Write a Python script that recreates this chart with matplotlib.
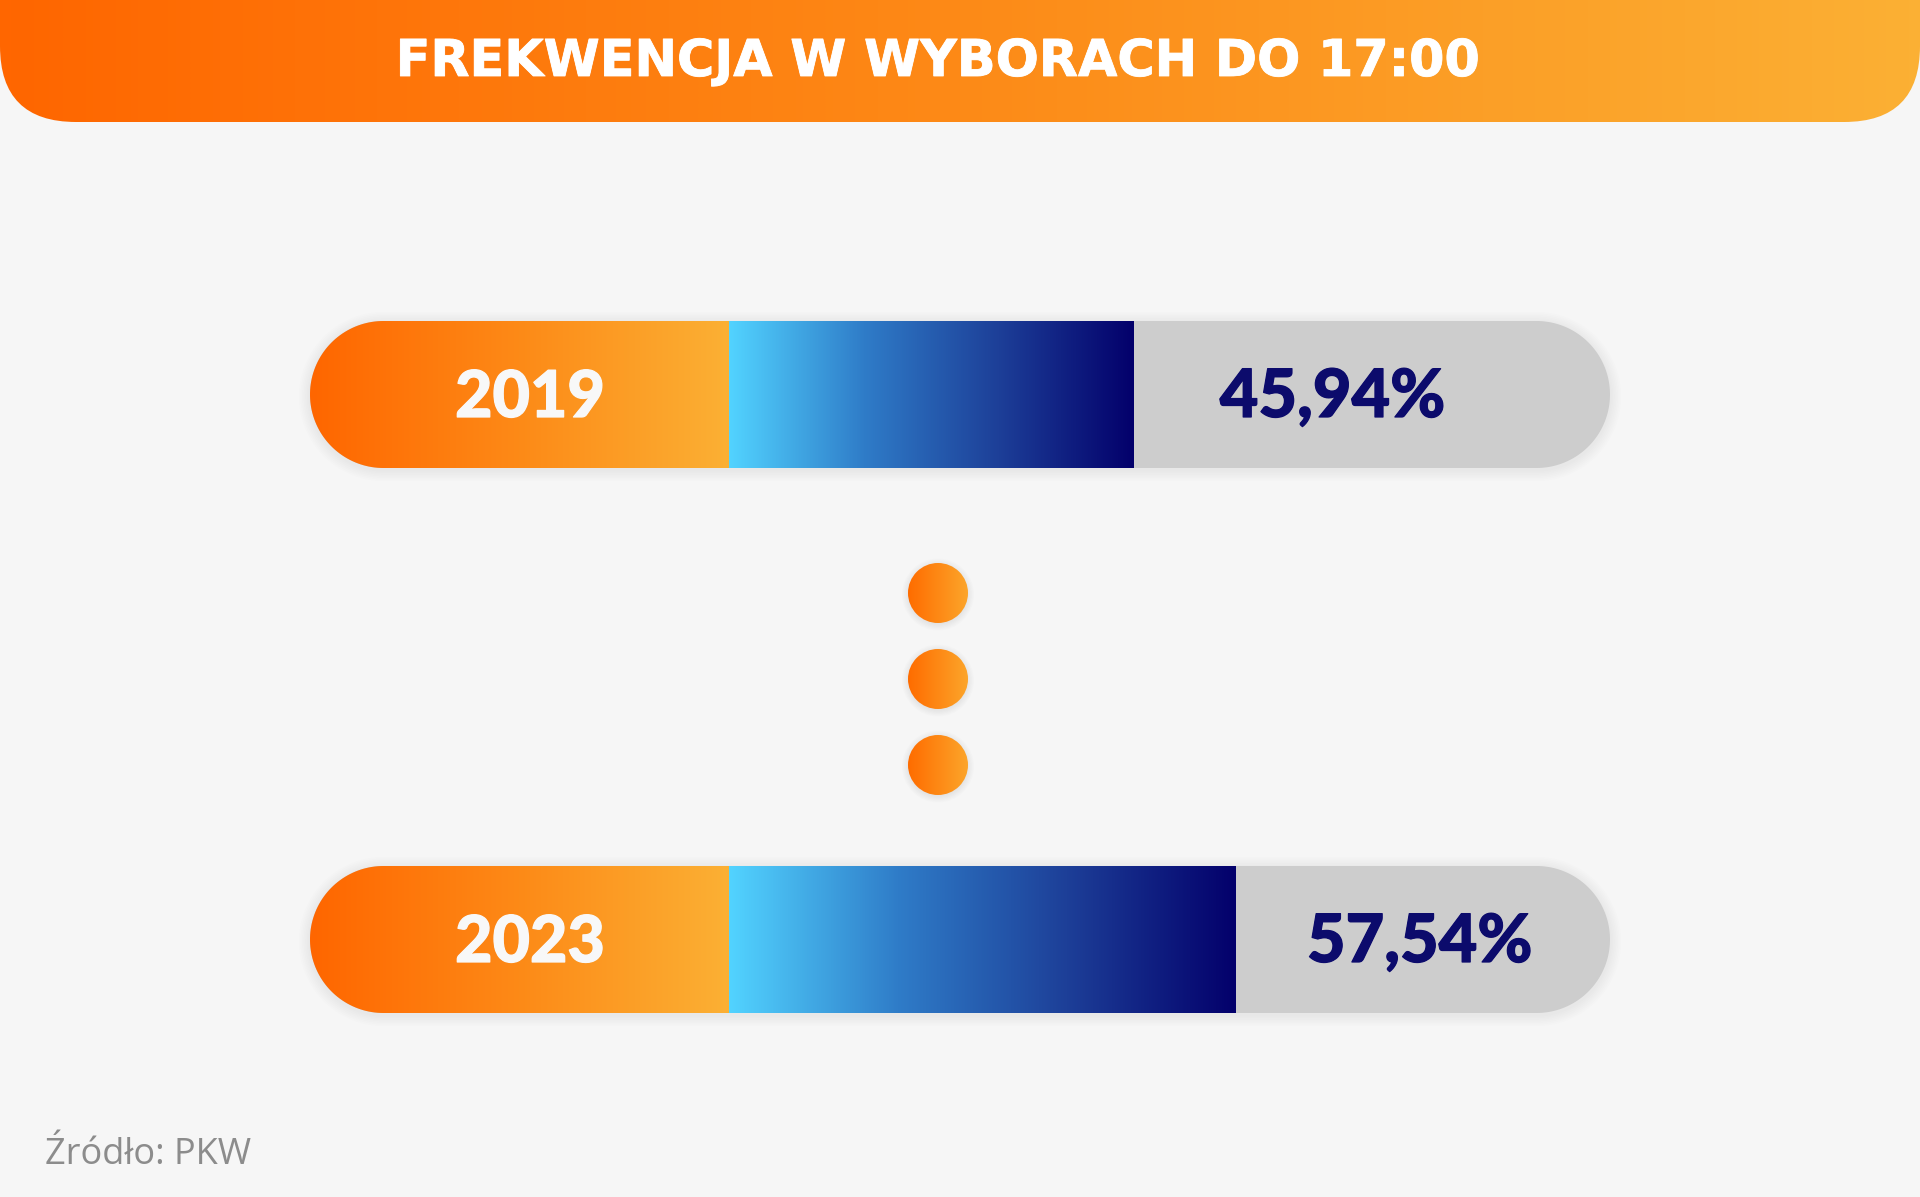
import numpy as np
import matplotlib
matplotlib.use("Agg")
import matplotlib.pyplot as plt
import matplotlib.patheffects as pe
from matplotlib.patches import FancyBboxPatch, Circle, Polygon
from matplotlib.colors import LinearSegmentedColormap

# ---------------- data ----------------
title = "FREKWENCJA W WYBORACH DO 17:00"
years = ["2019", "2023"]
turnout = [45.94, 57.54]
value_labels = ["45,94%", "57,54%"]
source = "Źródło: PKW"

# ---------------- layout / style ----------------
W, H, DPI = 1920, 1197, 100
BG = "#f6f6f6"
X0_PX = 729.0        # pixel position of 0 %
PPU = 8.81           # pixels per percentage point
Y0_PX = 394.5        # pixel centre of first bar
DY_PX = 545.0        # pixels between bar centres
BAR_H_PX = 147.0
LABEL_W_PX = 419.0   # width of orange year segment

fig = plt.figure(figsize=(W / DPI, H / DPI), dpi=DPI)
fig.patch.set_facecolor(BG)

orange_cmap = LinearSegmentedColormap.from_list("o", ["#ff6600", "#fd8a17", "#fbb034"])
blue_cmap = LinearSegmentedColormap.from_list("b", ["#52d3ff", "#2f7cc8", "#1d3f98", "#03006b"])
dot_cmap = LinearSegmentedColormap.from_list("d", ["#ff6c00", "#fca52a"])
grad = np.linspace(0, 1, 256).reshape(1, -1)

# pixel-space axes for decoration
axp = fig.add_axes([0, 0, 1, 1])
axp.set_xlim(0, W)
axp.set_ylim(H, 0)
axp.axis("off")
axp.set_zorder(0)

# title bar with rounded lower corners
tbar = FancyBboxPatch((0, -200), W, 200 + 122, boxstyle="round,pad=0,rounding_size=76",
                      fc="none", ec="none")
axp.add_patch(tbar)
im = axp.imshow(grad, cmap=orange_cmap, extent=(0, W, 122, -200), aspect="auto",
                interpolation="bilinear", zorder=1)
im.set_clip_path(tbar)
axp.text(938, 76, title, ha="center", va="baseline", color="white",
         fontsize=36.6, fontweight="bold", family="DejaVu Sans", zorder=3,
         path_effects=[pe.withStroke(linewidth=0.6, foreground="white")])

# dots between bars
for cy in (593, 679, 765):
    for k in range(6):
        axp.add_patch(Circle((938, cy + 1.5), 30 + k * 1.2, fc="black", ec="none",
                             alpha=0.01, zorder=1))
    c = Circle((938, cy), 30, fc="none", ec="none", zorder=2)
    axp.add_patch(c)
    dim = axp.imshow(grad, cmap=dot_cmap, extent=(908, 968, cy + 30, cy - 30),
                     aspect="auto", interpolation="bilinear", zorder=2)
    dim.set_clip_path(c)

# source
axp.text(45, 1164, source, ha="left", va="baseline", color="#8c8c8c",
         fontsize=26, family="Open Sans", zorder=3)

# data axes: x in percent, y in category index
axd = fig.add_axes([0, 0, 1, 1])
axd.set_zorder(1)
axd.patch.set_alpha(0)
axd.axis("off")
axd.set_xlim(-X0_PX / PPU, (W - X0_PX) / PPU)
axd.set_ylim((H - Y0_PX) / DY_PX, -Y0_PX / DY_PX)

bar_h = BAR_H_PX / DY_PX
label_left = -LABEL_W_PX / PPU
ypos = np.arange(len(years))


def pill(x0, x1, yc, hh, n=80):
    """closed pill polygon in data units, circular caps on screen"""
    rx = hh * DY_PX / PPU
    t = np.linspace(-np.pi / 2, np.pi / 2, n)
    right = np.column_stack([x1 - rx + rx * np.cos(t), yc + hh * np.sin(t)])
    t2 = np.linspace(np.pi / 2, 3 * np.pi / 2, n)
    left = np.column_stack([x0 + rx + rx * np.cos(t2), yc + hh * np.sin(t2)])
    return np.vstack([right, left])


for i, y in enumerate(ypos):
    # soft shadow
    for k in range(1, 8):
        e = k * 1.6
        sh = Polygon(pill(label_left - e / PPU, 100 + e / PPU, y + 2 / DY_PX,
                          bar_h / 2 + e / DY_PX), closed=True, fc="black", ec="none",
                     alpha=0.009, zorder=1)
        axd.add_patch(sh)
    track = Polygon(pill(label_left, 100, y, bar_h / 2), closed=True,
                    fc="#cdcdcd", ec="none", zorder=2)
    axd.add_patch(track)
    oim = axd.imshow(grad, cmap=orange_cmap,
                     extent=(label_left, 0, y + bar_h / 2, y - bar_h / 2),
                     aspect="auto", interpolation="bilinear", zorder=3)
    oim.set_clip_path(track)

bars = axd.barh(ypos, turnout, left=0, height=bar_h, color="none", zorder=4)
for rect in bars:
    x, yb, w, h = rect.get_x(), rect.get_y(), rect.get_width(), rect.get_height()
    bim = axd.imshow(grad, cmap=blue_cmap, extent=(x, x + w, yb + h, yb),
                     aspect="auto", interpolation="bilinear", zorder=4)
    bim.set_clip_path(rect)

base_off = 22.5 / DY_PX
for i, y in enumerate(ypos):
    axd.text(label_left / 2 + 10.5 / PPU, y + base_off, years[i], ha="center",
             va="baseline", color="#f8f8f8", fontsize=46.5, fontweight="black",
             family="Lato", zorder=6,
             path_effects=[pe.withStroke(linewidth=0.9, foreground="#f8f8f8")])
    axd.text(29.3 + 0.853 * turnout[i], y + base_off, value_labels[i], ha="center",
             va="baseline", color="#0c0b6c", fontsize=48, fontweight="black",
             family="Lato", zorder=6,
             path_effects=[pe.withStroke(linewidth=0.9, foreground="#0c0b6c")])

fig.savefig("out.png", dpi=DPI, facecolor=BG)
